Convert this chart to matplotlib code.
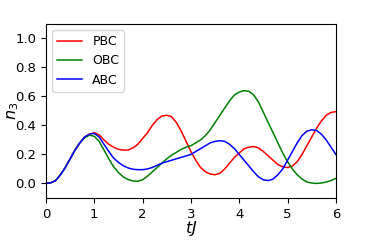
import numpy as np
import matplotlib
matplotlib.use("Agg")
import matplotlib.pyplot as plt

# ---- data (t step 0.1)
t = np.round(np.arange(0, 6.01, 0.1), 1)

rise = [0.0, 0.005, 0.02, 0.06, 0.11, 0.17, 0.23, 0.28, 0.32, 0.34]

pbc = rise + [
    0.35, 0.335, 0.30, 0.27, 0.25, 0.235, 0.23, 0.23, 0.245, 0.27,
    0.31, 0.35, 0.40, 0.44, 0.465, 0.47, 0.46, 0.42, 0.36, 0.29,
    0.22, 0.16, 0.11, 0.08, 0.065, 0.06, 0.07, 0.10, 0.14, 0.18,
    0.21, 0.24, 0.25, 0.255, 0.245, 0.22, 0.19, 0.16, 0.13, 0.115,
    0.11, 0.12, 0.15, 0.20, 0.26, 0.32, 0.38, 0.43, 0.47, 0.49,
    0.495]

obc = [0.0, 0.005, 0.02, 0.06, 0.11, 0.17, 0.23, 0.28, 0.315, 0.333] + [
    0.325, 0.29, 0.23, 0.17, 0.115, 0.075, 0.045, 0.027, 0.017, 0.015,
    0.025, 0.05, 0.08, 0.11, 0.14, 0.17, 0.195, 0.215, 0.235, 0.25,
    0.26, 0.28, 0.30, 0.33, 0.37, 0.42, 0.47, 0.52, 0.57, 0.61,
    0.63, 0.64, 0.635, 0.61, 0.56, 0.49, 0.42, 0.35, 0.28, 0.21,
    0.15, 0.10, 0.06, 0.03, 0.01, 0.003, 0.0, 0.003, 0.01, 0.02,
    0.035]

abc = rise + [
    0.345, 0.32, 0.27, 0.22, 0.175, 0.145, 0.122, 0.107, 0.098, 0.095,
    0.095, 0.10, 0.11, 0.125, 0.14, 0.15, 0.16, 0.17, 0.18, 0.19,
    0.20, 0.22, 0.24, 0.26, 0.28, 0.29, 0.295, 0.29, 0.27, 0.24,
    0.20, 0.16, 0.12, 0.08, 0.045, 0.025, 0.02, 0.03, 0.06, 0.10,
    0.16, 0.22, 0.28, 0.33, 0.36, 0.37, 0.365, 0.34, 0.30, 0.25,
    0.20]

fig = plt.figure(figsize=(3.74, 2.49), dpi=100)
ax = fig.add_axes([0.123, 0.205, 0.775, 0.699])

ax.plot(t, pbc, color="red", lw=1.1, label="PBC")
ax.plot(t, obc, color="green", lw=1.1, label="OBC")
ax.plot(t, abc, color="blue", lw=1.1, label="ABC")

ax.set_xlim(0, 6)
ax.set_ylim(-0.1, 1.1)
ax.set_yticks([0.0, 0.2, 0.4, 0.6, 0.8, 1.0])
ax.tick_params(labelsize=9.5)
ax.set_xlabel("$tJ$", fontsize=11.5, labelpad=-1)
ax.set_ylabel("$n_3$", fontsize=11.5)
ax.yaxis.set_label_coords(-0.085, 0.5)
ax.legend(loc="upper left", fontsize=9, handlelength=2.0)

fig.savefig("out.png", dpi=100)
